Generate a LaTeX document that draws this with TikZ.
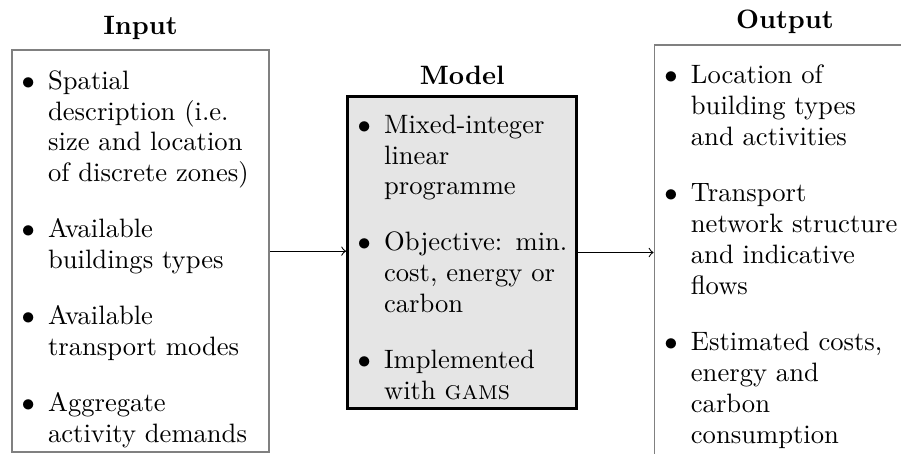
\documentclass[tikz,border=0pt]{standalone}
\usetikzlibrary{fit}
\newcommand{\boxlist}[1]{\raggedright
 \begin{list}{$\bullet$}{\setlength{\leftmargin}{13.5pt}\setlength{\labelwidth}{5pt}%
 \setlength{\labelsep}{5pt}\setlength{\itemsep}{9.4pt}\setlength{\parsep}{0pt}%
 \setlength{\topsep}{0pt}\setlength{\partopsep}{0pt}\setlength{\itemindent}{0pt}%
 \setlength{\listparindent}{0pt}}#1\end{list}}
\tikzset{
  iobox/.style={draw=black!50, line width=0.75pt, inner sep=0pt},
  modelbox/.style={draw=black, fill=black!10, line width=1.25pt, inner sep=0pt},
  boxtitle/.style={font=\fontsize{10pt}{12pt}\selectfont\bfseries, inner sep=0pt, anchor=base},
  boxtext/.style={font=\fontsize{10pt}{11.65pt}\selectfont, inner sep=0pt, anchor=north west},
  link/.style={->, line width=0.4pt}
}
\begin{document}
\begin{tikzpicture}[x=0.376pt, y=-0.376pt]
\useasboundingbox (0,0) rectangle (901,454);
\clip (0,0) rectangle (901,454);
% boxes
\node[iobox, fit={(11.7,50.3) (269.3,452)}] (in) {};
\node[modelbox, fit={(347.7,96.7) (576.7,408.3)}] (model) {};
\node[iobox, fit={(654.5,44.5) (915.5,458.5)}] (out) {};
% titles
\node[boxtitle] (tin) at (140.5,34.5) {Input};
\node[boxtitle] (tmodel) at (462.2,84) {Model};
\node[boxtitle] (tout) at (785,28) {Output};
% contents
\node[boxtext, text width=96pt] (lin) at (11.7,57.5) {\boxlist{%
\item Spatial\newline description (i.e.\newline size and location\newline of discrete zones)
\item Available\newline buildings types
\item Available\newline transport modes
\item Aggregate\newline activity demands}};
\node[boxtext, text width=86pt] (lmodel) at (347.7,101.5) {\boxlist{%
\item Mixed-integer\newline linear\newline programme
\item Objective: min.\newline cost, energy or\newline carbon
\item Implemented\newline with \textsc{gams}}};
\node[boxtext, text width=98pt] (lout) at (654.5,52.2) {\boxlist{%
\item Location of\newline building types\newline and activities
\item Transport\newline network structure\newline and indicative\newline flows
\item Estimated costs,\newline energy and\newline carbon\newline consumption}};
% connectors
\draw[link] (in.east) -- (in.east -| model.west);
\draw[link] (model.east) -- (model.east -| out.west);
\end{tikzpicture}
\end{document}
